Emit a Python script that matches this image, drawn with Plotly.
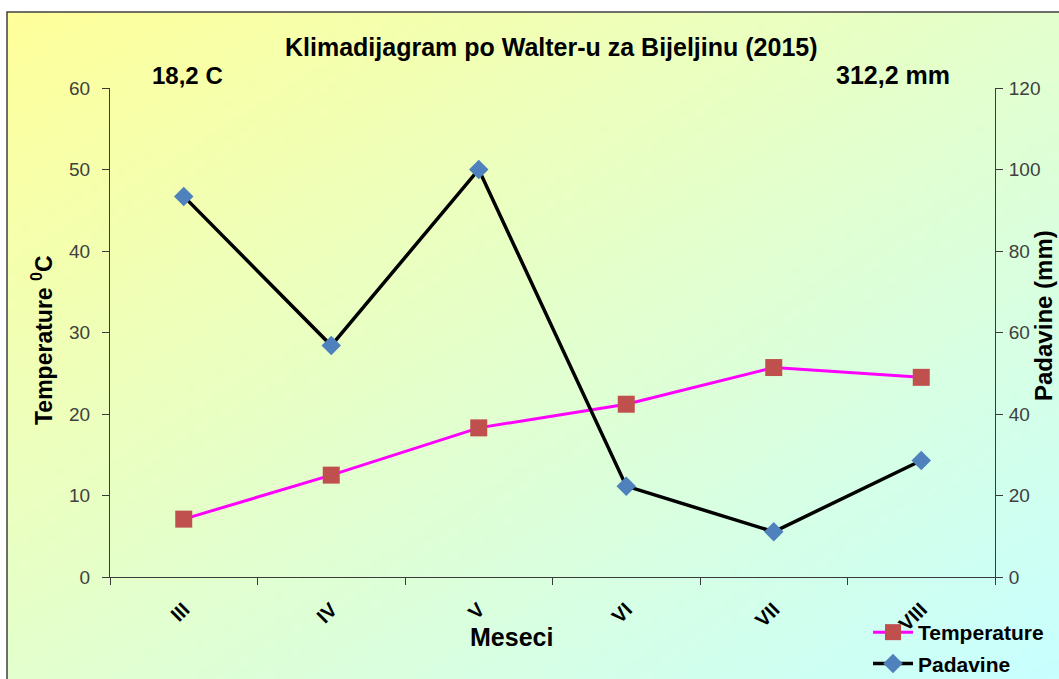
import base64
import struct
import zlib

import plotly.graph_objects as go

# data
months = ["III", "IV", "V", "VI", "VII", "VIII"]
temperature = [7.1, 12.5, 18.3, 21.2, 25.7, 24.5]
precipitation = [93.4, 56.8, 100.0, 22.3, 11.1, 28.6]

FONT = "Arial, Liberation Sans, sans-serif"

# plot area in pixels (page is 1059 x 679)
L, R, T, B = 110, 995, 88, 577
W, H = 1059, 679


def px_x(px):
    return (px - L) / (R - L)


def px_y(py):
    return (B - py) / (B - T)


def gradient_png(w, h, c0, c1):
    """Small diagonal gradient PNG as data uri (stretched by the browser)."""
    rows = []
    for j in range(h):
        row = bytearray(b"\x00")
        for i in range(w):
            t = (i / (w - 1) + j / (h - 1)) / 2
            row += bytes(round(a + (b - a) * t) for a, b in zip(c0, c1))
        rows.append(bytes(row))
    raw = b"".join(rows)

    def chunk(tag, data):
        c = struct.pack(">I", len(data)) + tag + data
        return c + struct.pack(">I", zlib.crc32(tag + data) & 0xFFFFFFFF)

    png = b"\x89PNG\r\n\x1a\n"
    png += chunk(b"IHDR", struct.pack(">IIBBBBB", w, h, 8, 2, 0, 0, 0))
    png += chunk(b"IDAT", zlib.compress(raw, 9))
    png += chunk(b"IEND", b"")
    return "data:image/png;base64," + base64.b64encode(png).decode()


def label(text, x, y, size, **kw):
    return dict(text=text, x=px_x(x), y=px_y(y), xref="paper", yref="paper",
                xanchor=kw.pop("xanchor", "center"), yanchor="middle",
                showarrow=False, font=dict(size=size), **kw)


fig = go.Figure()

fig.add_trace(
    go.Scatter(
        x=months,
        y=temperature,
        name="Temperature",
        legendgroup="t",
        mode="lines+markers",
        line=dict(color="#FF00FF", width=3),
        marker=dict(symbol="square", size=17, color="#C0504D"),
    )
)
fig.add_trace(
    go.Scatter(
        x=months,
        y=precipitation,
        name="Padavine",
        legendgroup="p",
        yaxis="y2",
        mode="lines+markers",
        line=dict(color="black", width=3.5),
        marker=dict(symbol="diamond", size=15, color="#4F81BD"),
    )
)

mean_t = sum(temperature) / len(temperature)
sum_p = sum(precipitation)

axis_line = dict(showline=True, linecolor="#3a3a3a", linewidth=1, showgrid=False,
                 zeroline=False, ticks="outside", ticklen=7, tickcolor="#3a3a3a")

fig.update_layout(
    width=W,
    height=H,
    margin=dict(l=L, r=W - R, t=T, b=H - B, autoexpand=False),
    paper_bgcolor="white",
    plot_bgcolor="rgba(0,0,0,0)",
    font=dict(family=FONT, color="black"),
    showlegend=True,
    xaxis=dict(
        type="category",
        categoryorder="array",
        categoryarray=months,
        range=[-0.5, len(months) - 0.5],
        tickson="boundaries",
        tickangle=-45,
        ticklabelstandoff=12,
        tickfont=dict(size=20, family=FONT, color="black", weight="bold"),
        **axis_line,
    ),
    yaxis=dict(
        range=[0, 60],
        dtick=10,
        ticklabelstandoff=8,
        tickfont=dict(size=19, color="#404040"),
        **axis_line,
    ),
    yaxis2=dict(
        range=[0, 120],
        dtick=20,
        overlaying="y",
        side="right",
        ticklabelstandoff=2,
        tickfont=dict(size=19, color="#404040"),
        **axis_line,
    ),
    legend=dict(
        x=px_x(868),
        y=px_y(612),
        xanchor="left",
        yanchor="top",
        bgcolor="rgba(0,0,0,0)",
        font=dict(size=21, weight="bold"),
        itemwidth=40,
        tracegroupgap=1,
        traceorder="grouped",
    ),
    images=[
        dict(
            source=gradient_png(120, 80, (255, 255, 155), (200, 255, 255)),
            xref="paper",
            yref="paper",
            x=px_x(7),
            y=px_y(12),
            sizex=(W - 7) / (R - L),
            sizey=(H - 12) / (B - T),
            xanchor="left",
            yanchor="top",
            sizing="stretch",
            layer="below",
        )
    ],
    shapes=[
        dict(
            type="rect",
            xref="paper",
            yref="paper",
            x0=px_x(7),
            x1=px_x(W + 10),
            y0=px_y(H + 10),
            y1=px_y(12),
            line=dict(color="#404040", width=1.5),
            layer="below",
        )
    ],
    annotations=[
        label("<b>Klimadijagram po Walter-u za Bijeljinu (2015)</b>", 551, 47, 25),
        label(f"<b>{mean_t:.1f} C</b>".replace(".", ","), 150, 75, 24, xanchor="left"),
        label(f"<b>{sum_p:.1f} mm</b>".replace(".", ","), 952, 75, 25, xanchor="right"),
        label("<b>Temperature <sup>0</sup>C</b>", 42, 340, 23, textangle=-90),
        label("<b>Padavine (mm)</b>", 1043, 316, 24, textangle=-90),
        label("<b>Meseci</b>", 511, 637, 25),
    ],
)

fig.write_html(
    "out.html",
    config={"displayModeBar": False},
    post_script="document.body.style.margin='0';"
    "document.body.style.overflow='hidden';"
    "document.documentElement.style.overflow='hidden';",
)
